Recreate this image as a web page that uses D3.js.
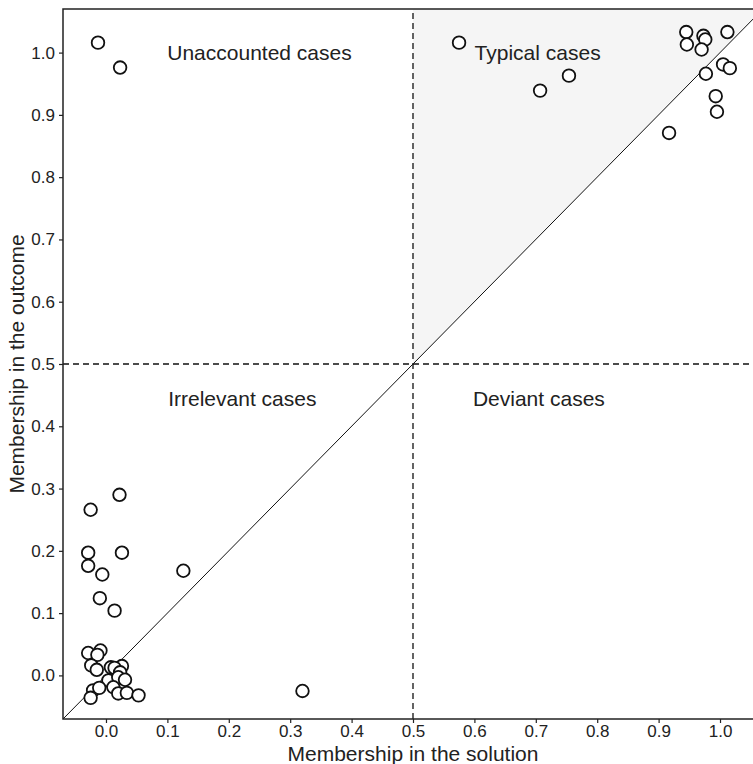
<!DOCTYPE html>
<html>
<head>
<meta charset="utf-8">
<script src="https://cdn.jsdelivr.net/npm/d3@7"></script>
<style>
  body { margin: 0; background: #fff; }
  svg text { font-family: "Liberation Sans", Arial, Helvetica, sans-serif; fill: #222; }
</style>
</head>
<body>
<div id="chart"></div>
<script>
// membership in the solution / outcome
var solution = [
  -0.013, 0.023,
  0.575, 0.707, 0.754,
  0.945, 0.973, 1.012, 0.946, 0.976, 0.970, 1.005, 1.016, 0.977, 0.993, 0.995, 0.917,
  0.022, -0.025, -0.029, 0.026, -0.029, -0.006, 0.126, -0.010, 0.014,
  -0.029, -0.009, -0.014, -0.024, -0.015, 0.008, 0.026, 0.014, 0.023,
  0.004, 0.020, 0.031, -0.021, -0.011, -0.025, 0.012, 0.020, 0.034, 0.053,
  0.320
];
var outcome = [
  1.016, 0.976,
  1.016, 0.939, 0.963,
  1.033, 1.027, 1.033, 1.013, 1.021, 1.005, 0.981, 0.975, 0.966, 0.930, 0.905, 0.871,
  0.290, 0.266, 0.197, 0.197, 0.176, 0.162, 0.168, 0.124, 0.104,
  0.036, 0.040, 0.033, 0.016, 0.009, 0.013, 0.015, 0.012, 0.005,
  -0.008, -0.003, -0.007, -0.024, -0.020, -0.036, -0.019, -0.029, -0.028, -0.032,
  -0.025
];
var tickValues = [0, 0.1, 0.2, 0.3, 0.4, 0.5, 0.6, 0.7, 0.8, 0.9, 1.0];
var quadrantLabels = ["Unaccounted cases", "Typical cases", "Irrelevant cases", "Deviant cases"];
var labelX = [0.25, 0.703, 0.222, 0.705];
var labelY = [1.0, 1.0, 0.445, 0.445];
var domain = [-0.07, 1.07];
var threshold = 0.5;

var width = 753, height = 764;
var plotLeft = 63, plotRight = 763, plotTop = 9, plotBottom = 719;

var svg = d3.select("#chart")
            .append("svg")
            .attr("width", width)
            .attr("height", height);

var x = d3.scaleLinear().domain(domain).range([plotLeft, plotRight]);
var y = d3.scaleLinear().domain(domain).range([plotBottom, plotTop]);

var points = solution.map(function(d, i){ return {x: d, y: outcome[i]}; });

// shaded triangle: typical cases above the diagonal
svg.append("path")
   .attr("d", d3.line()([
       [x(threshold), y(threshold)],
       [x(threshold), y(domain[1])],
       [x(domain[1]), y(domain[1])]
   ]))
   .style("fill", "#f5f5f5")
   .style("stroke", "none");

// diagonal y = x
svg.append("line")
   .attr("x1", x(domain[0]))
   .attr("y1", y(domain[0]))
   .attr("x2", x(domain[1]))
   .attr("y2", y(domain[1]))
   .style("stroke", "#111")
   .style("stroke-width", 1);

// threshold lines
svg.append("line")
   .attr("x1", x(threshold))
   .attr("x2", x(threshold))
   .attr("y1", y(domain[0]))
   .attr("y2", y(domain[1]))
   .style("stroke", "#111")
   .style("stroke-width", 1.3)
   .style("stroke-dasharray", ("6, 4"));
svg.append("line")
   .attr("x1", x(domain[0]))
   .attr("x2", x(domain[1]))
   .attr("y1", y(threshold))
   .attr("y2", y(threshold))
   .style("stroke", "#111")
   .style("stroke-width", 1.3)
   .style("stroke-dasharray", ("6, 4"));

// quadrant labels
svg.selectAll("text.quad")
   .data(quadrantLabels)
   .enter()
   .append("text")
   .attr("class", "quad")
   .attr("x", function(d, i){ return x(labelX[i]); })
   .attr("y", function(d, i){ return y(labelY[i]); })
   .attr("dy", "0.35em")
   .style("text-anchor", "middle")
   .style("font-size", "21px")
   .text(function(d){ return d; });

// cases
svg.selectAll("circle")
   .data(points)
   .enter()
   .append("circle")
   .attr("cx", function(d){ return x(d.x); })
   .attr("cy", function(d){ return y(d.y); })
   .attr("r", 6.3)
   .style("fill", "#fff")
   .style("stroke", "#111")
   .style("stroke-width", 1.8);

// frame
svg.append("rect")
   .attr("x", plotLeft)
   .attr("y", plotTop)
   .attr("width", plotRight - plotLeft)
   .attr("height", plotBottom - plotTop)
   .style("fill", "none")
   .style("stroke", "#222")
   .style("stroke-width", 1.5);

var xAxis = svg.append("g")
   .attr("transform", "translate(0," + plotBottom + ")")
   .call(d3.axisBottom(x).tickValues(tickValues).tickSize(4).tickPadding(2).tickFormat(d3.format(".1f")));
var yAxis = svg.append("g")
   .attr("transform", "translate(" + plotLeft + ",0)")
   .call(d3.axisLeft(y).tickValues(tickValues).tickSize(4).tickPadding(4).tickFormat(d3.format(".1f")));

[xAxis, yAxis].forEach(function(a){
  a.select(".domain").remove();
  a.selectAll("line").style("stroke", "#222").style("stroke-width", 1.2);
  a.selectAll("text").style("font-size", "17px").style("fill", "#222")
   .style("font-family", "'Liberation Sans', Arial, sans-serif");
});

svg.append("text")
   .attr("x", x(threshold))
   .attr("y", 761)
   .style("text-anchor", "middle")
   .style("font-size", "21px")
   .text("Membership in the solution");

svg.append("text")
   .attr("transform", "translate(24," + ((plotTop + plotBottom) / 2) + ") rotate(-90)")
   .style("text-anchor", "middle")
   .style("font-size", "21px")
   .text("Membership in the outcome");
</script>
</body>
</html>
